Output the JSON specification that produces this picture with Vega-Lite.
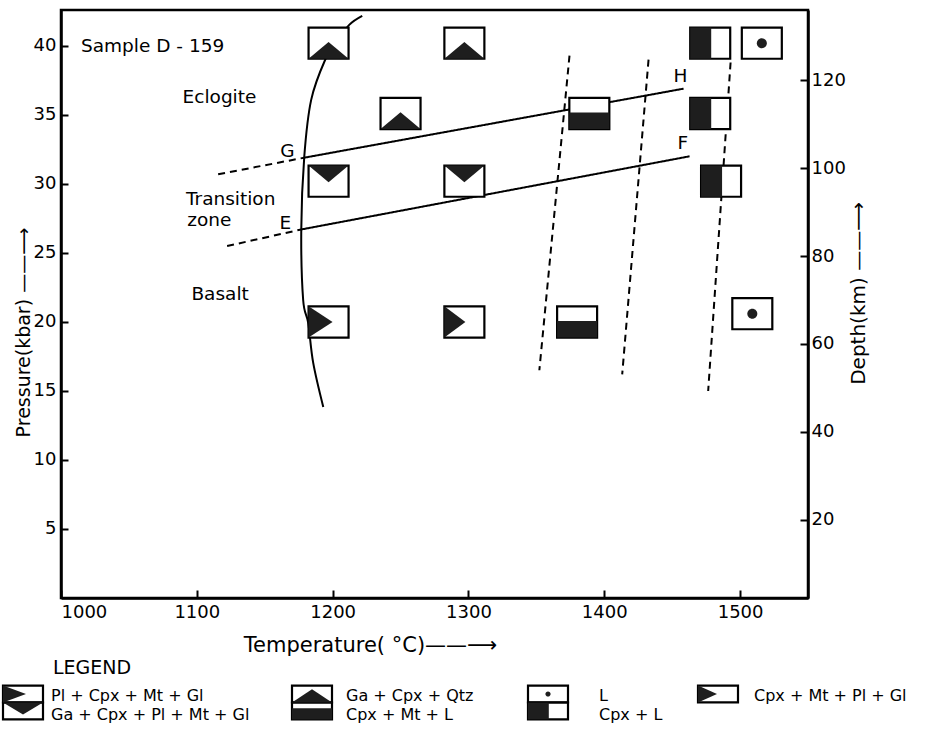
{
  "$schema": "https://vega.github.io/schema/vega-lite/v6.json",
  "padding": {"left": -2, "top": 8, "right": 0, "bottom": 0},
  "autosize": {"type": "pad"},
  "background": "white",
  "spacing": 2,
  "resolve": {"scale": {"shape": "independent"}},
  "config": {
    "font": "DejaVu Sans",
    "view": {"stroke": "black", "strokeWidth": 2.5},
    "axis": {
      "grid": false, "domainColor": "black", "domainWidth": 2.5,
      "tickColor": "black", "tickWidth": 2, "labelColor": "black",
      "titleColor": "black", "labelFont": "DejaVu Sans", "titleFont": "DejaVu Sans",
      "labelFontSize": 18, "titleFontSize": 19, "titleFontWeight": "normal"
    },
    "text": {"font": "DejaVu Sans", "color": "black"}
  },
  "datasets": {
    "boundaries": [
      {"id": "GH-ext", "style": "dashed", "ord": 1, "T": 1115.7, "P": 30.7},
      {"id": "GH-ext", "style": "dashed", "ord": 2, "T": 1179.1, "P": 31.9},
      {"id": "GH", "style": "solid", "ord": 1, "T": 1179.1, "P": 31.9},
      {"id": "GH", "style": "solid", "ord": 2, "T": 1458.4, "P": 36.9},
      {"id": "EF-ext", "style": "dashed", "ord": 1, "T": 1122.3, "P": 25.5},
      {"id": "EF-ext", "style": "dashed", "ord": 2, "T": 1176.9, "P": 26.7},
      {"id": "EF", "style": "solid", "ord": 1, "T": 1176.9, "P": 26.7},
      {"id": "EF", "style": "solid", "ord": 2, "T": 1462.8, "P": 32.0},
      {"id": "d1", "style": "dashed", "ord": 1, "T": 1374.4, "P": 39.3},
      {"id": "d1", "style": "dashed", "ord": 2, "T": 1352.2, "P": 16.5},
      {"id": "d2", "style": "dashed", "ord": 1, "T": 1432.6, "P": 39.0},
      {"id": "d2", "style": "dashed", "ord": 2, "T": 1413.2, "P": 16.2},
      {"id": "d3", "style": "dashed", "ord": 1, "T": 1493.0, "P": 38.8},
      {"id": "d3", "style": "dashed", "ord": 2, "T": 1476.5, "P": 15.0}
    ],
    "curve": [
      {"ord": 1, "T": 1221.8, "P": 42.17},
      {"ord": 2, "T": 1212.2, "P": 41.52},
      {"ord": 3, "T": 1203.0, "P": 40.3},
      {"ord": 4, "T": 1194.5, "P": 38.99},
      {"ord": 5, "T": 1184.2, "P": 36.09},
      {"ord": 6, "T": 1179.1, "P": 31.96},
      {"ord": 7, "T": 1176.9, "P": 26.67},
      {"ord": 8, "T": 1178.3, "P": 21.59},
      {"ord": 9, "T": 1182.0, "P": 19.93},
      {"ord": 10, "T": 1185.7, "P": 17.03},
      {"ord": 11, "T": 1193.1, "P": 13.84}
    ],
    "samples": [
      {"T": 1197, "P": 40.2, "phase": "Ga+Cpx+Qtz"},
      {"T": 1297, "P": 40.2, "phase": "Ga+Cpx+Qtz"},
      {"T": 1250, "P": 35.1, "phase": "Ga+Cpx+Qtz"},
      {"T": 1389, "P": 35.1, "phase": "Cpx+Mt+L"},
      {"T": 1478, "P": 40.2, "phase": "Cpx+L"},
      {"T": 1516, "P": 40.2, "phase": "L"},
      {"T": 1478, "P": 35.1, "phase": "Cpx+L"},
      {"T": 1486, "P": 30.2, "phase": "Cpx+L"},
      {"T": 1197, "P": 30.2, "phase": "Ga+Cpx+Pl+Mt+Gl"},
      {"T": 1297, "P": 30.2, "phase": "Ga+Cpx+Pl+Mt+Gl"},
      {"T": 1197, "P": 20.0, "phase": "Pl+Cpx+Mt+Gl"},
      {"T": 1297, "P": 20.0, "phase": "Cpx+Mt+Pl+Gl"},
      {"T": 1380, "P": 20.0, "phase": "Cpx+Mt+L"},
      {"T": 1509, "P": 20.6, "phase": "L"}
    ],
    "labels": [
      {"text": "Sample D - 159", "T": 1014.7, "P": 40.0},
      {"text": "Eclogite", "T": 1089.5, "P": 36.3},
      {"text": "Transition", "T": 1092, "P": 28.9},
      {"text": "zone", "T": 1093, "P": 27.4},
      {"text": "Basalt", "T": 1096, "P": 22.0},
      {"text": "G", "T": 1161.5, "P": 32.4},
      {"text": "E", "T": 1160.8, "P": 27.2},
      {"text": "H", "T": 1451, "P": 37.8},
      {"text": "F", "T": 1454, "P": 33.0}
    ],
    "legend": [
      {"col": 1, "row": 0, "phase": null, "label": "LEGEND"},
      {"col": 1, "row": 1, "phase": "Pl+Cpx+Mt+Gl", "label": "Pl + Cpx + Mt + Gl"},
      {"col": 1, "row": 2, "phase": "Ga+Cpx+Pl+Mt+Gl", "label": "Ga + Cpx + Pl + Mt + Gl"},
      {"col": 2, "row": 1, "phase": "Ga+Cpx+Qtz", "label": "Ga + Cpx + Qtz"},
      {"col": 2, "row": 2, "phase": "Cpx+Mt+L", "label": "Cpx + Mt + L"},
      {"col": 3, "row": 1, "phase": "L", "label": "L"},
      {"col": 3, "row": 2, "phase": "Cpx+L", "label": "Cpx + L"},
      {"col": 4, "row": 1, "phase": "Cpx+Mt+Pl+Gl", "label": "Cpx + Mt + Pl + Gl"}
    ]
  },
  "vconcat": [
    {
      "width": 747,
      "height": 588,
      "layer": [
        {
          "encoding": {
            "x": {
              "field": "T", "type": "quantitative",
              "scale": {"domain": [1000, 1550], "nice": false, "zero": false},
              "axis": {
                "values": [1000, 1100, 1200, 1300, 1400, 1500], "format": "d",
                "tickSize": -8, "labelPadding": 13,
                "title": "Temperature( °C)——⟶", "titleFontSize": 21,
                "titleX": 309, "titleY": 47, "titleAlign": "center", "titleBaseline": "middle", "titleAngle": 0
              }
            },
            "y": {
              "field": "P", "type": "quantitative",
              "scale": {"domain": [0, 42.6], "nice": false, "zero": false},
              "axis": {
                "values": [5, 10, 15, 20, 25, 30, 35, 40],
                "tickSize": -7, "labelPadding": 12,
                "title": "Pressure(kbar) ——⟶",
                "titleX": -38, "titleY": 322, "titleAlign": "center", "titleBaseline": "middle", "titleAngle": 270
              }
            }
          },
          "layer": [
            {
              "data": {"name": "boundaries"},
              "mark": {"type": "line", "color": "black", "strokeWidth": 2},
              "encoding": {
                "detail": {"field": "id"},
                "order": {"field": "ord", "type": "quantitative"},
                "strokeDash": {"field": "style", "type": "nominal", "scale": {"domain": ["solid", "dashed"], "range": [[1, 0], [7, 5]]}, "legend": null}
              }
            },
            {
              "data": {"name": "curve"},
              "mark": {"type": "line", "color": "black", "strokeWidth": 2, "interpolate": "cardinal"},
              "encoding": {"order": {"field": "ord", "type": "quantitative"}}
            },
            {
              "data": {"name": "samples"},
              "mark": {"type": "point", "shape": "M-1,-0.78H1V0.78H-1Z", "size": 1600, "filled": true, "fill": "white", "stroke": "black", "strokeWidth": 2.2, "opacity": 1},
              "encoding": {}
            },
            {
              "data": {"name": "samples"},
              "mark": {"type": "point", "size": 1600, "filled": true, "color": "#1e1e1e", "strokeWidth": 0, "opacity": 1},
              "encoding": {
                "shape": {
                  "field": "phase", "type": "nominal", "legend": null,
                  "scale": {
                    "domain": ["Pl+Cpx+Mt+Gl", "Ga+Cpx+Pl+Mt+Gl", "Ga+Cpx+Qtz", "Cpx+Mt+L", "L", "Cpx+L", "Cpx+Mt+Pl+Gl"],
                    "range": [
                      "M-1,-0.78L0.2,0L-1,0.78Z",
                      "M-1,-0.78L0,0.06L1,-0.78Z",
                      "M-1,0.78L0,-0.06L1,0.78Z",
                      "M-1,-0.05H1V0.78H-1Z",
                      "M0.25,0A0.25,0.25,0,1,1,-0.25,0A0.25,0.25,0,1,1,0.25,0Z",
                      "M-1,-0.78H0.05V0.78H-1Z",
                      "M-1,-0.78L0.05,0L-1,0.78Z"
                    ]
                  }
                }
              }
            },
            {
              "data": {"name": "labels"},
              "mark": {"type": "text", "align": "left", "baseline": "middle", "fontSize": 18.5},
              "encoding": {"text": {"field": "text"}}
            }
          ]
        },
        {
          "data": {"values": [{"depth": 20}, {"depth": 120}]},
          "mark": {"type": "point", "opacity": 0},
          "encoding": {
            "y": {
              "field": "depth", "type": "quantitative",
              "scale": {"domain": [2.2, 136], "nice": false, "zero": false},
              "axis": {
                "orient": "right",
                "values": [20, 40, 60, 80, 100, 120],
                "tickSize": -8, "labelPadding": 11,
                "title": "Depth(km)  ——⟶", "titleFontSize": 20,
                "titleX": 50, "titleY": 283, "titleAlign": "center", "titleBaseline": "middle", "titleAngle": 270
              }
            }
          }
        }
      ],
      "resolve": {"scale": {"y": "independent"}}
    },
    {
      "width": 747,
      "height": 60,
      "view": {"stroke": null},
      "data": {"name": "legend"},
      "layer": [
        {
          "transform": [{"filter": "datum.row > 0"}],
          "mark": {"type": "point", "shape": "M-1,-0.42H1V0.42H-1Z", "size": 1600, "filled": true, "fill": "white", "stroke": "black", "strokeWidth": 2.2, "opacity": 1},
          "encoding": {
            "x": {"field": "col", "type": "quantitative", "scale": {"domain": [1, 2, 3, 4], "range": [-38, 251, 487, 657], "nice": false, "zero": false}, "axis": null},
            "y": {"field": "row", "type": "quantitative", "scale": {"domain": [0, 1, 2], "range": [9, 35, 52], "nice": false, "zero": false}, "axis": null}
          }
        },
        {
          "transform": [{"filter": "datum.row > 0"}],
          "mark": {"type": "point", "size": 1600, "filled": true, "color": "#1e1e1e", "strokeWidth": 0, "opacity": 1},
          "encoding": {
            "x": {"field": "col", "type": "quantitative", "scale": {"domain": [1, 2, 3, 4], "range": [-38, 251, 487, 657], "nice": false, "zero": false}, "axis": null},
            "y": {"field": "row", "type": "quantitative", "scale": {"domain": [0, 1, 2], "range": [9, 35, 52], "nice": false, "zero": false}, "axis": null},
            "shape": {
              "field": "phase", "type": "nominal", "legend": null,
              "scale": {
                "domain": ["Pl+Cpx+Mt+Gl", "Ga+Cpx+Pl+Mt+Gl", "Ga+Cpx+Qtz", "Cpx+Mt+L", "L", "Cpx+L", "Cpx+Mt+Pl+Gl"],
                "range": [
                  "M-1,-0.42L0.15,0L-1,0.42Z",
                  "M-1,-0.42L0,0.17L1,-0.42Z",
                  "M-1,0.42L0,-0.24L1,0.42Z",
                  "M-1,-0.14H1V0.42H-1Z",
                  "M0.13,0A0.13,0.13,0,1,1,-0.13,0A0.13,0.13,0,1,1,0.13,0Z",
                  "M-1,-0.42H0.04V0.42H-1Z",
                  "M-1,-0.42L-0.05,0L-1,0.42Z"
                ]
              }
            }
          }
        },
        {
          "transform": [{"filter": "datum.row > 0"}],
          "mark": {"type": "text", "align": "left", "baseline": "middle", "fontSize": 16},
          "encoding": {
            "x": {"field": "col", "type": "quantitative", "scale": {"domain": [1, 2, 3, 4], "range": [-10, 285, 538, 693], "nice": false, "zero": false}, "axis": null},
            "y": {"field": "row", "type": "quantitative", "scale": {"domain": [0, 1, 2], "range": [9, 37, 56], "nice": false, "zero": false}, "axis": null},
            "text": {"field": "label"}
          }
        },
        {
          "transform": [{"filter": "datum.row == 0"}],
          "mark": {"type": "text", "align": "left", "baseline": "middle", "fontSize": 19},
          "encoding": {
            "x": {"field": "col", "type": "quantitative", "scale": {"domain": [1, 2, 3, 4], "range": [-8, 285, 538, 693], "nice": false, "zero": false}, "axis": null},
            "y": {"field": "row", "type": "quantitative", "scale": {"domain": [0, 1, 2], "range": [9, 37, 56], "nice": false, "zero": false}, "axis": null},
            "text": {"field": "label"}
          }
        }
      ],
      "resolve": {"scale": {"x": "independent", "y": "independent"}}
    }
  ]
}
